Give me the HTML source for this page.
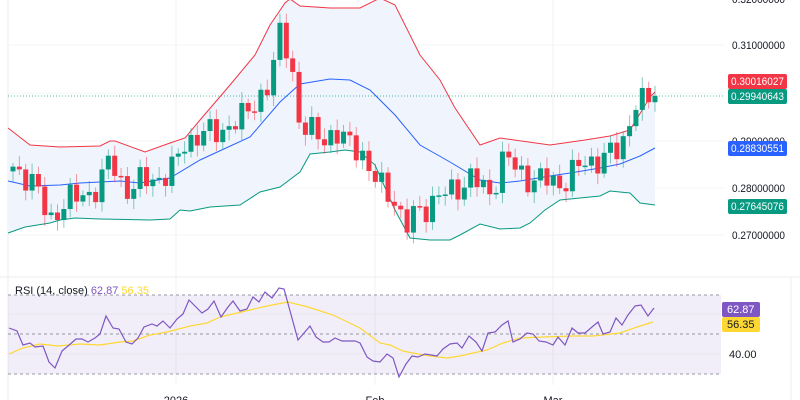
<!DOCTYPE html>
<html><head><meta charset="utf-8"><style>
body{margin:0;background:#fff;width:800px;height:400px;overflow:hidden;font-family:"Liberation Sans",sans-serif}
svg{display:block}
</style></head><body>
<svg id="s" width="800" height="400" xmlns="http://www.w3.org/2000/svg"></svg>
<script>
const S=document.getElementById('s');let h='';
function yP(p){return 188-(p-0.28)*4750;}
function interp(pts,x){for(let i=0;i<pts.length-1;i++){const a=pts[i],b=pts[i+1];if(x>=a[0]&&x<=b[0]){return a[1]+(b[1]-a[1])*(x-a[0])/(b[0]-a[0]);}}return x<pts[0][0]?pts[0][1]:pts[pts.length-1][1];}
function pl(pts){return pts.map(p=>p[0]+','+p[1]).join(' ');}
[45,93,141,188,235].forEach(y=>h+=`<line x1="8" x2="725" y1="${y}" y2="${y}" stroke="#f3f4f6"/>`);
[176,375,553].forEach(x=>h+=`<line x1="${x}" x2="${x}" y1="0" y2="385" stroke="#f0f1f4"/>`);
h+=`<line x1="8" x2="8" y1="0" y2="400" stroke="#eceef2"/>`;
h+=`<line x1="0" x2="800" y1="277" y2="277" stroke="#eceef2"/>`;
const up=[[8,128],[30,145],[60,147],[100,146],[110,141],[115,141],[145,152],[170,143],[185,138],[200,120],[230,85],[255,55],[270,25],[285,3],[290,-1],[300,6],[330,8],[360,8],[380,-2],[395,5],[420,55],[440,80],[455,108],[480,145],[500,138],[550,145],[585,140],[610,136],[630,130],[650,97],[655,92]];
const mid=[[8,181],[30,186],[60,185],[80,183],[120,181],[140,183],[170,178],[200,160],[250,137],[280,102],[300,84],[330,79],[350,80],[370,90],[395,115],[420,145],[450,162],[480,180],[500,183],[520,181],[550,176],[570,173],[600,168],[620,164],[640,156],[655,148]];
const lo=[[8,233],[25,227],[50,223],[60,220],[75,218],[100,219],[150,220],[170,219],[180,210],[190,211],[210,207],[240,205],[260,192],[280,187],[300,172],[310,154],[330,152],[345,150],[360,152],[375,165],[395,210],[410,238],[430,240],[450,240],[460,235],[480,224],[500,229],[520,228],[530,223],[545,210],[560,200],[600,196],[610,191],[630,193],[640,203],[655,205]];
h+=`<polygon points="${pl(up)} ${pl(lo.slice().reverse())}" fill="#f0f5fd"/>`;
h+=`<polyline points="${pl(up)}" fill="none" stroke="#f23645" stroke-width="1"/>`;
h+=`<polyline points="${pl(mid)}" fill="none" stroke="#2962ff" stroke-width="1"/>`;
h+=`<polyline points="${pl(lo)}" fill="none" stroke="#089981" stroke-width="1"/>`;
h+=`<line x1="8" x2="725" y1="96" y2="96" stroke="#089981" stroke-dasharray="1,2" opacity="0.7"/>`;
const kp=[[13,0.2845],[30,0.282],[50,0.2735],[60,0.276],[80,0.2785],[100,0.280],[110,0.2865],[120,0.282],[130,0.279],[145,0.282],[170,0.2825],[185,0.290],[210,0.2915],[240,0.294],[255,0.2985],[270,0.3015],[280,0.3125],[290,0.309],[300,0.292],[320,0.2915],[360,0.289],[370,0.2825],[395,0.278],[405,0.2705],[415,0.275],[440,0.278],[470,0.282],[490,0.279],[505,0.287],[515,0.284],[530,0.282],[560,0.281],[580,0.2845],[600,0.2865],[620,0.2875],[635,0.2985],[645,0.2975],[655,0.2994]];
let prev=null;const N=102;
for(let i=0;i<N;i++){const x=13+i*(642/(N-1));
 let c=interp(kp,x)+0.0022*Math.sin(i*2.3)+0.0014*Math.sin(i*5.1);
 if(i==N-1)c=0.29940643;
 let o=prev==null?c-0.001:prev;prev=c;
 const hi=Math.max(o,c)+0.0008+0.0015*Math.abs(Math.sin(i*1.7));
 const l=Math.min(o,c)-0.0008-0.0015*Math.abs(Math.cos(i*1.3));
 const col=c>=o?'#089981':'#f23645';
 const y1=yP(Math.max(o,c)),y2=yP(Math.min(o,c));
 h+=`<line x1="${x}" x2="${x}" y1="${yP(hi)}" y2="${yP(l)}" stroke="${col}" opacity="0.5"/>`;
 h+=`<rect x="${x-2.5}" y="${y1}" width="5" height="${Math.max(1.5,y2-y1)}" fill="${col}"/>`;}
const tl=[[0.32,-1],[0.31,45],[0.29,141],[0.28,188],[0.27,235]];
tl.forEach(t=>h+=`<text x="732" y="${t[1]+4}" font-size="11" textLength="53" lengthAdjust="spacingAndGlyphs" fill="#131722">${t[0].toFixed(8)}</text>`);
function lab(y,txt,bg){h+=`<rect x="728" y="${y}" width="59" height="15" rx="2" fill="${bg}"/><text x="731" y="${y+11}" font-size="11" textLength="53" lengthAdjust="spacingAndGlyphs" fill="#fff">${txt}</text>`;}
lab(74,'0.30016027','#f23645');lab(89,'0.29940643','#089981');lab(141,'0.28830551','#2962ff');lab(199,'0.27645076','#089981');
h+=`<rect x="8" y="295" width="713" height="79" fill="#7e57c2" opacity="0.1"/>`;
[295,334,374].forEach(y=>h+=`<line x1="8" x2="721" y1="${y}" y2="${y}" stroke="#9598a1" stroke-dasharray="3,3"/>`);
h+=`<line x1="8" x2="721" y1="354" y2="354" stroke="#e8e6f0"/>`;
h+=`<line x1="8" x2="721" y1="314" y2="314" stroke="#e8e6f0"/>`;
const ma=[[9,354],[23,348],[40,344],[58,346],[80,344],[100,345],[120,342],[133,341],[150,335],[167,332],[190,326],[207,323],[220,317],[233,314],[250,310],[267,306],[288,302],[308,307],[333,315],[360,328],[380,343],[390,345],[403,351],[423,355],[447,358],[460,356],[473,353],[487,350],[503,343],[520,338],[543,337],[573,336],[593,336],[620,333],[637,327],[653,322]];
const rsi=[[9,328],[17,331],[23,345],[30,343],[35,347],[43,346],[49,362],[55,368],[62,351],[68,346],[76,339],[82,339],[88,342],[95,338],[100,334],[106,316],[113,328],[119,329],[126,342],[132,344],[138,338],[144,327],[152,324],[157,326],[163,321],[170,328],[177,319],[183,314],[189,300],[196,307],[202,313],[208,309],[214,301],[221,317],[228,307],[233,301],[240,311],[247,309],[253,297],[259,302],[265,292],[272,298],[279,288],[284,289],[298,340],[304,333],[310,326],[316,337],[323,342],[329,342],[335,338],[342,341],[348,341],[355,341],[360,343],[367,357],[373,361],[380,362],[387,354],[393,358],[399,377],[406,364],[412,356],[418,357],[425,354],[437,356],[443,349],[450,344],[457,343],[462,348],[469,336],[476,342],[482,351],[488,333],[495,332],[502,325],[508,321],[513,342],[520,339],[527,333],[533,334],[539,341],[546,342],[553,345],[558,337],[565,345],[572,328],[578,333],[585,333],[592,327],[598,322],[603,334],[610,332],[616,318],[622,325],[628,315],[635,306],[641,305],[648,316],[654,308]];
h+=`<polyline points="${pl(ma)}" fill="none" stroke="#fdd835" stroke-width="1.2"/>`;
h+=`<polyline points="${pl(rsi)}" fill="none" stroke="#7e57c2" stroke-width="1.2"/>`;
h+=`<text x="15" y="294" font-size="11" fill="#131722">RSI (14, close) <tspan fill="#7e57c2">62.87</tspan> <tspan fill="#fdd835">56.35</tspan></text>`;
h+=`<rect x="722" y="302" width="38" height="15" rx="2" fill="#7e57c2"/><text x="727" y="313" font-size="11" fill="#fff">62.87</text>`;
h+=`<rect x="722" y="317" width="38" height="15" rx="2" fill="#fdd835"/><text x="727" y="328" font-size="11" fill="#131722">56.35</text>`;
h+=`<text x="729" y="358" font-size="11" fill="#131722">40.00</text>`;
h+=`<line x1="791" x2="791" y1="277" y2="400" stroke="#eceef2"/>`;
[[176,'2026'],[375,'Feb'],[553,'Mar']].forEach(t=>h+=`<text x="${t[0]}" y="404" font-size="11" fill="#131722" text-anchor="middle">${t[1]}</text>`);
S.innerHTML=h;
</script>
</body></html>
